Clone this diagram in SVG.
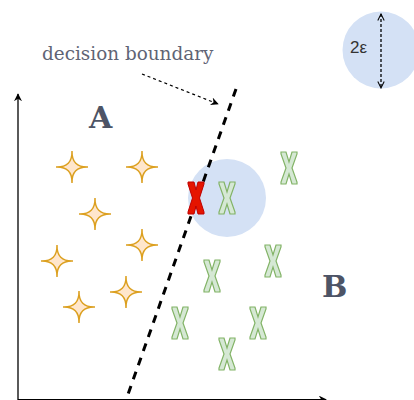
<svg xmlns="http://www.w3.org/2000/svg" width="414" height="400" viewBox="0 0 414 400">
<style>
.star{fill:#ffe6cc;stroke:#dca020;stroke-width:1.5}
.gx{fill:#d5e8d4;stroke:#82b366;stroke-width:1.2}
.rx{fill:#e51400;stroke:#c00000;stroke-width:1}
.lbl{font-family:"DejaVu Serif",serif;font-weight:bold;font-size:30px;fill:#4d5466}
.ax{stroke:#000;stroke-width:1.3;fill:none}
</style>
<defs>
<marker id="ah" viewBox="0 0 10 10" refX="9" refY="5" markerWidth="8" markerHeight="8" orient="auto" markerUnits="userSpaceOnUse">
<path d="M0,0 L10,5 L0,10 L3,5 Z" fill="#000"/>
</marker>
<marker id="oh" viewBox="0 0 10 10" refX="9" refY="5" markerWidth="8" markerHeight="8" orient="auto-start-reverse" markerUnits="userSpaceOnUse">
<path d="M1,1 L9,5 L1,9" fill="none" stroke="#000" stroke-width="1.3"/>
</marker>
<path id="star" d="M0,-16 Q-0.5,0.5 16,0 Q-0.5,-0.5 0,16 Q0.5,-0.5 -16,0 Q0.5,0.5 0,-16 Z"/>
<path id="xs" d="M-8,-16 L-3,-16 L0,-6 L3,-16 L8,-16 L8,-14 L3,0 L8,14 L8,16 L3,16 L0,6 L-3,16 L-8,16 L-8,14 L-3,0 L-8,-14 Z"/>
<path id="xb" d="M-8,-16 L-2,-16 L0,-8 L2,-16 L8,-16 L8,-14 L3.5,0 L8,14 L8,16 L2,16 L0,8 L-2,16 L-8,16 L-8,14 L-3.5,0 L-8,-14 Z"/>
</defs>
<rect width="414" height="400" fill="#fff"/>
<g id="eps-circle">
<circle cx="381" cy="50" r="38.5" fill="#d4e1f5"/>
<line x1="381" y1="14" x2="381" y2="88" stroke="#000" stroke-width="1.3" stroke-dasharray="3,2" marker-start="url(#oh)" marker-end="url(#oh)"/>
<text x="350" y="53" font-family="Liberation Sans, sans-serif" font-size="17" fill="#333">2ε</text>
</g>
<g id="neighborhood">
<circle cx="227" cy="198" r="39" fill="#d4e1f5"/>
</g>
<g id="axes">
<line class="ax" x1="18" y1="400" x2="18" y2="94" marker-end="url(#ah)"/>
<line class="ax" x1="18" y1="399.6" x2="326" y2="399.6" marker-end="url(#ah)"/>
</g>
<g id="connectors">
<line x1="236" y1="89" x2="126" y2="400" stroke="#000" stroke-width="3" stroke-dasharray="8,7"/>
<line x1="142" y1="74" x2="218" y2="104" stroke="#000" stroke-width="1.2" stroke-dasharray="3,3" marker-end="url(#ah)"/>
</g>
<g id="label-db"><text x="42" y="60" font-family="DejaVu Serif, serif" font-size="18.4" fill="#5f6475">decision boundary</text></g>
<g id="label-A"><text class="lbl" x="89" y="128">A</text></g>
<g id="label-B"><text class="lbl" x="322" y="297">B</text></g>
<g id="stars">
<use href="#star" class="star" x="72" y="167"/>
<use href="#star" class="star" x="142" y="167"/>
<use href="#star" class="star" x="95" y="214"/>
<use href="#star" class="star" x="142" y="245"/>
<use href="#star" class="star" x="57" y="261"/>
<use href="#star" class="star" x="126" y="292"/>
<use href="#star" class="star" x="79" y="307"/>
</g>
<g id="crosses">
<use href="#xs" class="gx" x="289" y="168"/>
<use href="#xs" class="gx" x="227" y="198"/>
<use href="#xs" class="gx" x="273" y="261"/>
<use href="#xs" class="gx" x="212" y="276"/>
<use href="#xs" class="gx" x="180" y="323"/>
<use href="#xs" class="gx" x="258" y="323"/>
<use href="#xs" class="gx" x="227" y="354"/>
</g>
<g id="adversarial"><use href="#xb" class="rx" x="196" y="198"/></g>
</svg>
